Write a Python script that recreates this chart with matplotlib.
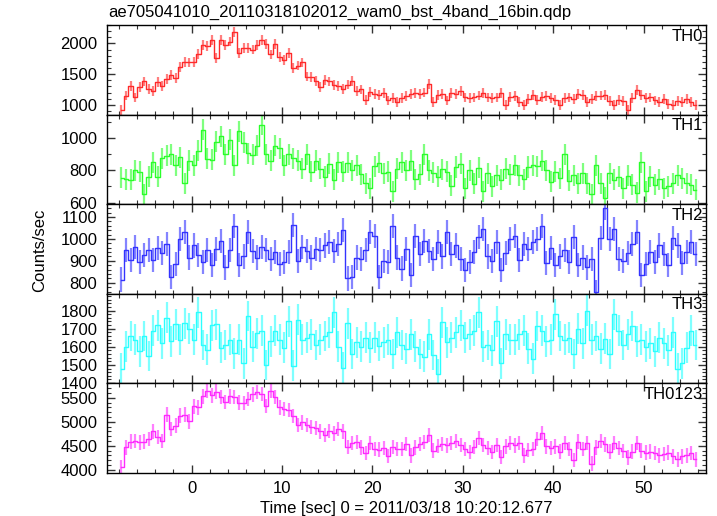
import numpy as np
import matplotlib
matplotlib.use("Agg")
import matplotlib.pyplot as plt
from matplotlib.ticker import MultipleLocator

plt.rcParams['font.family'] = ['Liberation Sans', 'DejaVu Sans']

# 0.5 s bins, centres from -7.75 to 55.75 s
t_start = -7.75
bin_width = 0.5

th0 = [920, 1150, 1310, 1120, 1290, 1380, 1260, 1230, 1370, 1300, 1420, 1480, 1430, 1610, 1700, 1690,
       1700, 1830, 1970, 1960, 2050, 1760, 2050, 1970, 2030, 2180, 1850, 1930, 1920, 1900, 1980, 2060,
       1990, 1820, 1990, 1780, 1730, 1840, 1600, 1640, 1690, 1460, 1450, 1390, 1290, 1400, 1380, 1320,
       1300, 1260, 1330, 1390, 1230, 1250, 1080, 1210, 1170, 1160, 1190, 1070, 1110, 1040, 1110, 1140,
       1170, 1190, 1180, 1200, 1340, 1040, 1160, 1170, 1070, 1190, 1180, 1230, 1120, 1110, 1120, 1150,
       1190, 1120, 1110, 1120, 1190, 990, 1130, 1140, 1050, 990, 1100, 1160, 1080, 1130, 1140, 1110,
       1080, 1000, 1110, 1120, 1100, 1180, 1160, 1040, 1090, 1140, 1150, 1160, 1060, 990, 1080, 1060,
       920, 1110, 1240, 1160, 1110, 1120, 1070, 1050, 1090, 1010, 990, 1060, 1050, 1090, 1040, 990]

th1 = [755, 745, 740, 800, 790, 650, 760, 850, 760, 875, 890, 900, 830, 880, 720, 860,
       830, 920, 1050, 870, 865, 975, 1010, 900, 990, 830, 1040, 970, 905, 895, 950, 1080,
       900, 860, 950, 935, 830, 900, 875, 860, 810, 900, 790, 860, 810, 760, 840, 740,
       850, 790, 845, 800, 830, 775, 720, 690, 825, 845, 780, 790, 670, 810, 850, 800,
       860, 745, 775, 900, 800, 785, 760, 805, 790, 705, 820, 840, 690, 800, 715, 815,
       670, 780, 700, 770, 740, 810, 775, 830, 770, 745, 820, 830, 825, 860, 800, 730,
       790, 750, 900, 735, 770, 720, 780, 720, 650, 830, 720, 630, 780, 740, 760, 690,
       765, 710, 660, 850, 670, 760, 710, 745, 690, 700, 720, 770, 750, 720, 710, 680]

th2 = [815, 950, 905, 965, 895, 925, 950, 905, 960, 935, 975, 825, 885, 1000, 1030, 915,
       970, 925, 895, 950, 880, 955, 990, 870, 950, 1060, 880, 920, 1030, 945, 915, 965,
       950, 910, 940, 885, 895, 940, 1065, 900, 965, 945, 915, 955, 950, 970, 985, 945,
       975, 1040, 820, 825, 915, 910, 950, 1030, 1015, 825, 900, 895, 1060, 915, 865, 955,
       835, 1015, 930, 990, 945, 910, 985, 920, 1030, 930, 970, 910, 860, 895, 940, 1010,
       1045, 920, 900, 985, 860, 935, 1000, 1015, 905, 975, 955, 985, 1000, 1060, 890, 960,
       880, 920, 950, 895, 1010, 880, 915, 870, 910, 760, 1005, 1140, 1000, 1045, 910, 900,
       935, 975, 1030, 835, 885, 940, 895, 970, 930, 880, 1005, 970, 890, 940, 985, 930]

th3 = [1480, 1600, 1660, 1640, 1575, 1660, 1550, 1690, 1720, 1620, 1760, 1630, 1725, 1640, 1730, 1700,
       1640, 1790, 1610, 1585, 1720, 1725, 1595, 1610, 1640, 1565, 1640, 1510, 1770, 1600, 1675, 1690,
       1500, 1630, 1690, 1640, 1595, 1740, 1495, 1750, 1640, 1650, 1670, 1610, 1640, 1660, 1680, 1790,
       1600, 1485, 1730, 1560, 1625, 1600, 1650, 1595, 1650, 1605, 1625, 1640, 1560, 1680, 1610, 1590,
       1670, 1600, 1560, 1545, 1670, 1555, 1450, 1735, 1625, 1650, 1680, 1720, 1650, 1670, 1690, 1790,
       1600, 1610, 1580, 1740, 1510, 1670, 1640, 1640, 1670, 1690, 1590, 1535, 1715, 1690, 1630, 1640,
       1780, 1660, 1640, 1650, 1560, 1700, 1620, 1800, 1640, 1660, 1590, 1645, 1560, 1780, 1690, 1610,
       1670, 1715, 1630, 1640, 1600, 1620, 1575, 1650, 1620, 1580, 1680, 1480, 1510, 1595, 1690, 1610]

th0123 = [4050, 4470, 4590, 4600, 4570, 4590, 4640, 4800, 4690, 4600, 5150, 4850, 4920, 5130, 5150, 5010,
          5320, 5300, 5530, 5650, 5550, 5630, 5520, 5410, 5530, 5520, 5400, 5390, 5480, 5570, 5620, 5580,
          5330, 5650, 5520, 5300, 5270, 5250, 5120, 4940, 4990, 4940, 4890, 4870, 4800, 4720, 4810, 4760,
          4850, 4800, 4480, 4560, 4580, 4470, 4350, 4560, 4440, 4420, 4460, 4290, 4480, 4440, 4440, 4540,
          4300, 4470, 4540, 4580, 4720, 4400, 4500, 4540, 4510, 4560, 4600, 4520, 4440, 4370, 4480, 4660,
          4520, 4450, 4370, 4520, 4270, 4490, 4560, 4510, 4560, 4300, 4410, 4440, 4640, 4770, 4490, 4450,
          4490, 4380, 4560, 4440, 4200, 4590, 4440, 4560, 4130, 4470, 4600, 4530, 4380, 4560, 4450, 4390,
          4260, 4380, 4560, 4400, 4360, 4380, 4350, 4300, 4330, 4360, 4280, 4220, 4280, 4300, 4350, 4220]

bands = ['TH0', 'TH1', 'TH2', 'TH3', 'TH0123']
series = [th0, th1, th2, th3, th0123]
errors = [80, 65, 55, 85, 150]          # typical half-length of the error bars
colors = ['#ff2a2a', '#2aff2a', '#3333ff', '#2affff', '#ff2aff']
ylims = [(840, 2300), (590, 1144), (750, 1158), (1398, 1893), (3935, 5800)]
major = [500, 200, 100, 100, 500]
minor = [100, 100, 20, 20, 100]

W, H = 717, 516
fig = plt.figure(figsize=(W / 100, H / 100), dpi=100)
left, right, top, bottom = 107, 706, 25, 473
ph = (bottom - top) / 5

axes = []
for i, (name, y) in enumerate(zip(bands, series)):
    y = np.array(y, dtype=float)
    t = t_start + bin_width * np.arange(len(y))
    ax = fig.add_axes([left / W, 1 - (top + ph * (i + 1)) / H, (right - left) / W, ph / H])
    ax.errorbar(t, y, yerr=errors[i], fmt='none', ecolor=colors[i], elinewidth=1.6, alpha=0.6)
    ax.step(t, y, where='mid', color=colors[i], lw=1.0)
    ax.set_xlim(-9.35, 56.9)
    ax.set_ylim(*ylims[i])
    ax.xaxis.set_major_locator(MultipleLocator(10))
    ax.xaxis.set_minor_locator(MultipleLocator(2))
    ax.yaxis.set_major_locator(MultipleLocator(major[i]))
    ax.yaxis.set_minor_locator(MultipleLocator(minor[i]))
    ax.tick_params(which='both', direction='in', top=True, right=True, colors='#333333',
                   labelcolor='black', labelsize=12)
    ax.tick_params(axis='y', pad=7)
    ax.tick_params(axis='x', pad=6)
    ax.tick_params(which='major', length=6, width=1.0)
    ax.tick_params(which='minor', length=3, width=0.8)
    for s in ax.spines.values():
        s.set_linewidth(1.0)
    if i < 4:
        ax.tick_params(labelbottom=False)
    ax.text(0.995, 0.96, name, transform=ax.transAxes, ha='right', va='top', fontsize=12)
    axes.append(ax)

axes[-1].set_xlabel('Time [sec] 0 = 2011/03/18 10:20:12.677', fontsize=12, labelpad=3)
fig.text(108 / W, 1 - 12 / H, 'ae705041010_20110318102012_wam0_bst_4band_16bin.qdp',
         ha='left', va='center', fontsize=12)
fig.text(40 / W, 1 - 250 / H, 'Counts/sec', rotation=90, ha='center', va='center', fontsize=12)

fig.savefig('out.png', dpi=100)
